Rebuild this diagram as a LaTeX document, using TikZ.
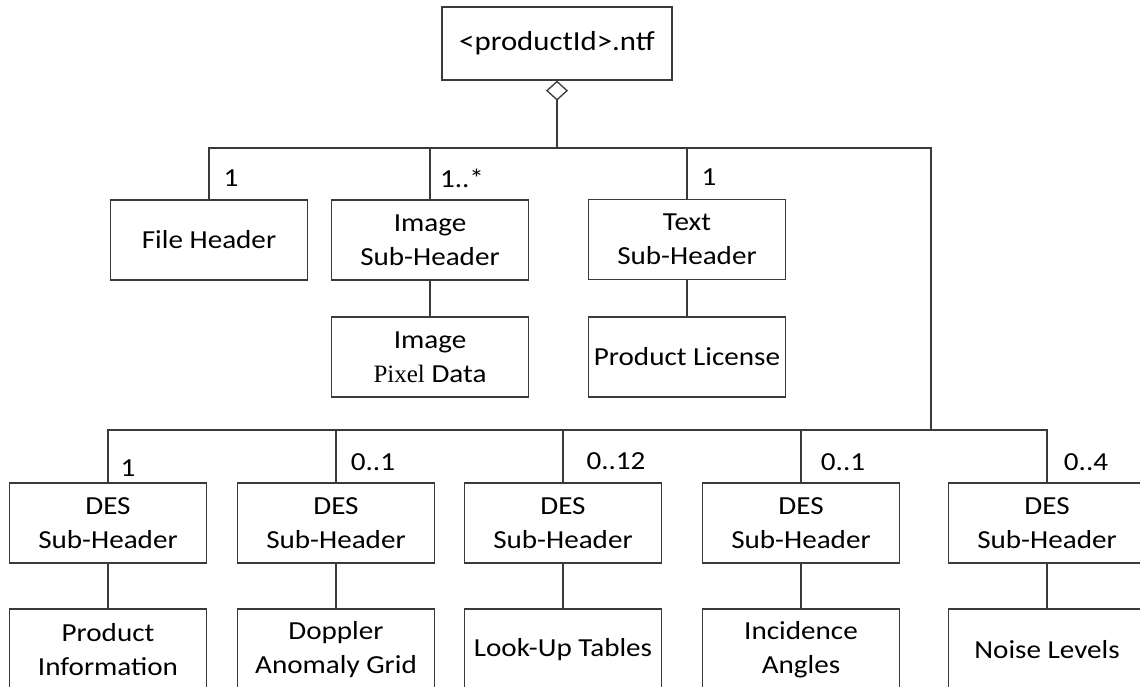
\documentclass[tikz,border=0pt]{standalone}
\usepackage{fontspec}
\setmainfont{Carlito}[FakeStretch=1.12]
\newfontfamily\pixfont{Liberation Serif}
\usetikzlibrary{arrows.meta}
\definecolor{linec}{HTML}{3A3A3A}
\tikzset{
  box/.style={draw=linec, line width=1.3pt, minimum width=197pt, minimum height=80pt,
    align=center, inner sep=0pt, font=\fontsize{26}{34}\selectfont},
  conn/.style={draw=linec, line width=1.4pt},
  mult/.style={font=\fontsize{26}{30}\selectfont, inner sep=0pt, anchor=center}
}
\begin{document}
\begin{tikzpicture}[x=1pt,y=-1pt]
\useasboundingbox (0,0) rectangle (1140,687);
\clip (0,0) rectangle (1140,687);
\fill[white] (0,0) rectangle (1140,687);
% nodes
\node[box, minimum width=230pt, minimum height=73pt, font=\fontsize{27.5}{34}\selectfont] (top) at (557,43.5) {<productId>.ntf};
\node[box] (fh)  at (209,240) {File Header};
\node[box] (ish) at (430,240) {Image\\Sub-Header};
\node[box] (ipd) at (430,357) {Image\\{\pixfont\fontsize{25}{34}\selectfont Pixel} Data};
\node[box] (tsh) at (687,239.5) {Text\\Sub-Header};
\node[box] (pl)  at (687,357) {Product License};
\node[box] (d1) at (108,523) {DES\\Sub-Header};
\node[box] (d2) at (336,523) {DES\\Sub-Header};
\node[box] (d3) at (563,523) {DES\\Sub-Header};
\node[box] (d4) at (801,523) {DES\\Sub-Header};
\node[box] (d5) at (1047,523) {DES\\Sub-Header};
\node[box, minimum height=82pt] (b1) at (108,650) {Product\\Information};
\node[box, minimum height=82pt] (b2) at (336,650) {Doppler\\Anomaly Grid};
\node[box, minimum height=82pt] (b3) at (563,650) {Look-Up Tables};
\node[box, minimum height=82pt] (b4) at (801,650) {Incidence\\Angles};
\node[box, minimum height=82pt] (b5) at (1047,650) {Noise Levels};
% junctions
\coordinate (j1) at (931,148);
\coordinate (j2) at (931,430);
% top connectors
\draw[conn, {Diamond[open, length=20pt, width=22pt, line width=1.3pt]}-] (top.south) -- (top.south |- j1);
\draw[conn] (fh.north) |- (j1) -- (j2);
\draw[conn] (ish.north) -- (ish.north |- j1);
\draw[conn] (tsh.north) -- (tsh.north |- j1);
\draw[conn] (ish.south) -- (ipd.north);
\draw[conn] (tsh.south) -- (pl.north);
% bottom connectors
\draw[conn] (d1.north) |- (d5.north |- j2) -- (d5.north);
\draw[conn] (d2.north) -- (d2.north |- j2);
\draw[conn] (d3.north) -- (d3.north |- j2);
\draw[conn] (d4.north) -- (d4.north |- j2);
\draw[conn] (d1.south) -- (b1.north);
\draw[conn] (d2.south) -- (b2.north);
\draw[conn] (d3.south) -- (b3.north);
\draw[conn] (d4.south) -- (b4.north);
\draw[conn] (d5.south) -- (b5.north);
% multiplicities
\node[mult] (m1) at (231,178) {1};
\node[mult] (m2) at (462,178) {1..*};
\node[mult] (m3) at (709,177) {1};
\node[mult] (m4) at (128,468) {1};
\node[mult] (m5) at (373,462) {0..1};
\node[mult] (m6) at (616,461) {0..12};
\node[mult] (m7) at (843,462) {0..1};
\node[mult] (m8) at (1086,462) {0..4};
\end{tikzpicture}
\end{document}
